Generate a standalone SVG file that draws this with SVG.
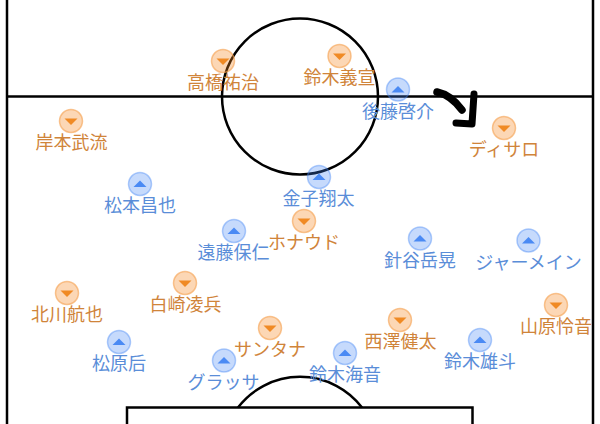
<svg xmlns="http://www.w3.org/2000/svg" width="600" height="424" viewBox="0 0 600 424">
<style>
.line{fill:none;stroke:#000;stroke-width:2.5}
.lbl{font-family:"Noto Sans CJK JP","Noto Sans",sans-serif;font-size:18px;text-anchor:middle}
.o .lbl{fill:#d0843a}
.b .lbl{fill:#5a8dd8}
.o circle{fill:#f5861f;fill-opacity:.33;stroke:#f5a04e;stroke-opacity:.6;stroke-width:1.5}
.b circle{fill:#4285f4;fill-opacity:.3;stroke:#4285f4;stroke-opacity:.4;stroke-width:1.5}
.o use{fill:#f08a24}
.b use{fill:#4a8af4}
</style>
<defs>
<path id="dn" d="M-6.5,-2.5 L6.5,-2.5 L0,4 Z"/>
<path id="up" d="M-6.5,3 L6.5,3 L0,-3.5 Z"/>
</defs>
<rect width="600" height="424" fill="#fff"/>
<g id="field">
<line class="line" x1="7" y1="0" x2="7" y2="424"/>
<line class="line" x1="593" y1="0" x2="593" y2="424"/>
<line class="line" x1="7" y1="96.5" x2="593" y2="96.5"/>
<circle class="line" cx="300" cy="96.5" r="78"/>
<path class="line" d="M127,424 V407.5 H472.5 V424"/>
<path class="line" d="M238,407.5 A78,78 0 0 1 362,407.5"/>
</g>
<g id="p-takahashi" class="o"><circle cx="223" cy="61" r="11.5"/><use href="#dn" x="223" y="61"/><text class="lbl" x="223" y="89">高橋祐治</text></g>
<g id="p-suzuki-yoshi" class="o"><circle cx="339.5" cy="56" r="11.5"/><use href="#dn" x="339.5" y="56"/><text class="lbl" x="339.5" y="84">鈴木義宣</text></g>
<g id="p-goto" class="b"><circle cx="398" cy="89.5" r="11.5"/><use href="#up" x="398" y="89.5"/><text class="lbl" x="398" y="117.5">後藤啓介</text></g>
<g id="p-disalo" class="o"><circle cx="504" cy="128" r="11.5"/><use href="#dn" x="504" y="128"/><text class="lbl" x="504" y="156">ディサロ</text></g>
<g id="p-kishimoto" class="o"><circle cx="71" cy="121" r="11.5"/><use href="#dn" x="71" y="121"/><text class="lbl" x="71.5" y="149">岸本武流</text></g>
<g id="p-matsumoto" class="b"><circle cx="140" cy="184" r="11.5"/><use href="#up" x="140" y="184"/><text class="lbl" x="140" y="212">松本昌也</text></g>
<g id="p-kaneko" class="b"><circle cx="319" cy="177" r="11.5"/><use href="#up" x="319" y="177"/><text class="lbl" x="318.5" y="205">金子翔太</text></g>
<g id="p-endo" class="b"><circle cx="234" cy="231" r="11.5"/><use href="#up" x="234" y="231"/><text class="lbl" x="233.5" y="259">遠藤保仁</text></g>
<g id="p-ronaldo" class="o"><circle cx="304" cy="221" r="11.5"/><use href="#dn" x="304" y="221"/><text class="lbl" x="304" y="249">ホナウド</text></g>
<g id="p-hariya" class="b"><circle cx="420" cy="238.5" r="11.5"/><use href="#up" x="420" y="238.5"/><text class="lbl" x="420" y="266.5">針谷岳晃</text></g>
<g id="p-jermaine" class="b"><circle cx="528.5" cy="240.5" r="11.5"/><use href="#up" x="528.5" y="240.5"/><text class="lbl" x="528.5" y="268.5">ジャーメイン</text></g>
<g id="p-kitagawa" class="o"><circle cx="67" cy="293" r="11.5"/><use href="#dn" x="67" y="293"/><text class="lbl" x="67" y="321">北川航也</text></g>
<g id="p-shirasaki" class="o"><circle cx="185" cy="283" r="11.5"/><use href="#dn" x="185" y="283"/><text class="lbl" x="185.5" y="311">白崎凌兵</text></g>
<g id="p-matsubara" class="b"><circle cx="119" cy="342" r="11.5"/><use href="#up" x="119" y="342"/><text class="lbl" x="119" y="370">松原后</text></g>
<g id="p-santana" class="o"><circle cx="270" cy="328" r="11.5"/><use href="#dn" x="270" y="328"/><text class="lbl" x="270" y="356">サンタナ</text></g>
<g id="p-grassa" class="b"><circle cx="224" cy="360.5" r="11.5"/><use href="#up" x="224" y="360.5"/><text class="lbl" x="223.5" y="388.5">グラッサ</text></g>
<g id="p-suzuki-kaito" class="b"><circle cx="345" cy="353" r="11.5"/><use href="#up" x="345" y="353"/><text class="lbl" x="345" y="381">鈴木海音</text></g>
<g id="p-nishizawa" class="o"><circle cx="400" cy="320" r="11.5"/><use href="#dn" x="400" y="320"/><text class="lbl" x="400.5" y="348">西澤健太</text></g>
<g id="p-suzuki-yuto" class="b"><circle cx="480" cy="340" r="11.5"/><use href="#up" x="480" y="340"/><text class="lbl" x="480" y="368">鈴木雄斗</text></g>
<g id="p-yamahara" class="o"><circle cx="556" cy="305" r="11.5"/><use href="#dn" x="556" y="305"/><text class="lbl" x="556" y="333">山原怜音</text></g>
<g id="connectors">
<path d="M437,92 Q451,95 462,110" fill="none" stroke="#000" stroke-width="7.5" stroke-linecap="round"/>
<path d="M474,94 L472,124 L456,123" fill="none" stroke="#000" stroke-width="7" stroke-linecap="round" stroke-linejoin="round"/>
</g>
</svg>
